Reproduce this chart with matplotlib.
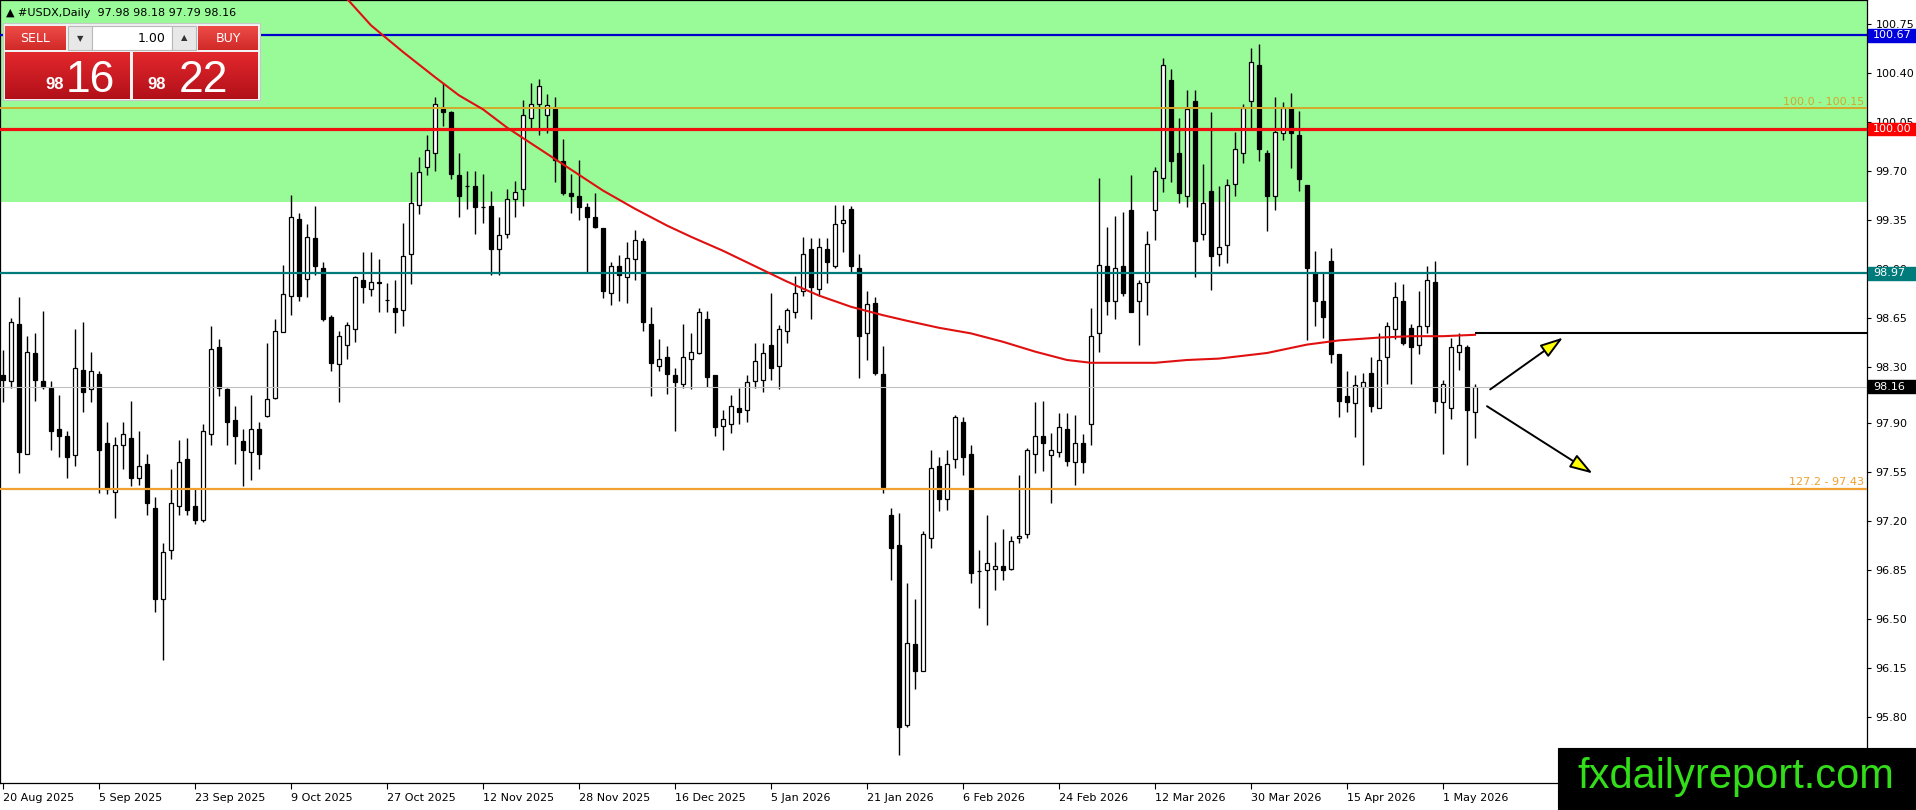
import numpy as np
import matplotlib
matplotlib.use("Agg")
import matplotlib.pyplot as plt
from matplotlib.patches import Rectangle
from matplotlib.colors import LinearSegmentedColormap
from matplotlib.transforms import blended_transform_factory


# daily USDX bars, first bar = 20 Aug 2025
opens = [
    98.24, 98.20, 98.61, 97.68, 98.40, 98.20, 98.15, 97.86, 97.81, 97.67,
    98.28, 98.14, 98.25, 97.76, 97.41, 97.74, 97.79, 97.51, 97.61, 97.29,
    96.64, 96.99, 97.31, 97.64, 97.31, 97.21, 97.82, 98.44, 98.14, 97.92,
    97.77, 97.69, 97.86, 97.95, 98.08, 98.55, 98.81, 99.36, 98.93, 99.22,
    99.01, 98.66, 98.32, 98.46, 98.57, 98.92, 98.86, 98.90, 98.78, 98.72,
    98.71, 99.11, 99.46, 99.73, 99.83, 100.14, 100.12, 99.67, 99.59, 99.59,
    99.44, 99.45, 99.14, 99.25, 99.50, 99.57, 100.08, 100.18, 100.10, 100.14,
    99.77, 99.54, 99.52, 99.44, 99.37, 99.29, 98.83, 99.02, 98.94, 99.07,
    99.20, 98.61, 98.31, 98.37, 98.24, 98.18, 98.36, 98.40, 98.64, 98.24,
    97.88, 97.89, 98.01, 97.99, 98.20, 98.21, 98.46, 98.31, 98.56, 98.69,
    98.84, 99.14, 98.86, 99.14, 99.02, 99.33, 99.43, 99.01, 98.54, 98.76,
    98.25, 97.24, 97.03, 95.74, 96.32, 96.13, 97.08, 97.59, 97.36, 97.64,
    97.91, 97.68, 96.84, 96.85, 96.86, 96.88, 96.86, 97.08, 97.11, 97.68,
    97.81, 97.67, 97.69, 97.86, 97.62, 97.76, 97.89, 98.54, 99.02, 98.77,
    99.02, 99.42, 98.77, 98.91, 99.42, 99.65, 100.35, 99.83, 99.52, 100.20,
    99.25, 99.56, 99.11, 99.17, 99.61, 99.83, 100.20, 100.46, 99.83, 99.52,
    99.97, 100.15, 99.96, 99.60, 98.97, 98.77, 99.06, 98.39, 98.09, 98.04,
    98.16, 98.26, 98.01, 98.37, 98.57, 98.77, 98.58, 98.46, 98.59, 98.91,
    98.05, 98.01, 98.41, 98.44, 97.98,
]
highs = [
    98.42, 98.65, 98.80, 98.52, 98.54, 98.70, 98.20, 98.10, 97.84, 98.57,
    98.62, 98.41, 98.27, 97.91, 97.80, 97.91, 98.06, 97.84, 97.68, 97.37,
    97.04, 97.57, 97.78, 97.79, 97.43, 97.89, 98.59, 98.50, 98.15, 98.02,
    97.86, 98.10, 97.91, 98.47, 98.64, 99.03, 99.53, 99.40, 99.32, 99.45,
    99.05, 98.67, 98.56, 98.62, 98.95, 99.12, 99.12, 99.07, 98.90, 98.92,
    99.33, 99.69, 99.80, 99.96, 100.23, 100.33, 100.13, 99.83, 99.70, 99.70,
    99.68, 99.56, 99.37, 99.57, 99.63, 100.21, 100.33, 100.36, 100.25, 100.23,
    99.93, 99.68, 99.78, 99.47, 99.54, 99.29, 99.05, 99.10, 99.19, 99.28,
    99.22, 98.73, 98.50, 98.45, 98.29, 98.61, 98.54, 98.72, 98.70, 98.24,
    97.99, 98.10, 98.15, 98.24, 98.47, 98.47, 98.83, 98.60, 98.72, 98.95,
    99.23, 99.22, 99.22, 99.22, 99.46, 99.46, 99.45, 99.11, 98.84, 98.80,
    98.45, 97.29, 97.26, 96.76, 96.64, 97.13, 97.71, 97.66, 97.71, 97.96,
    97.94, 97.74, 96.99, 97.24, 97.05, 97.14, 97.09, 97.53, 97.72, 98.05,
    98.06, 97.83, 97.97, 97.97, 97.96, 97.82, 98.72, 99.65, 99.30, 99.38,
    99.41, 99.67, 98.92, 99.27, 99.73, 100.51, 100.43, 100.08, 100.28, 100.28,
    99.75, 100.12, 99.59, 99.64, 99.98, 100.18, 100.58, 100.61, 99.85, 100.23,
    100.19, 100.26, 100.13, 99.60, 99.13, 98.97, 99.15, 98.39, 98.27, 98.24,
    98.26, 98.37, 98.54, 98.62, 98.91, 98.89, 98.61, 98.84, 99.02, 99.06,
    98.21, 98.51, 98.54, 98.46, 98.18,
]
lows = [
    98.05, 98.15, 97.54, 97.68, 98.06, 98.14, 97.71, 97.66, 97.51, 97.59,
    97.98, 98.05, 97.40, 97.39, 97.22, 97.57, 97.45, 97.46, 97.24, 96.55,
    96.21, 96.93, 97.24, 97.24, 97.18, 97.19, 97.74, 98.09, 97.74, 97.61,
    97.45, 97.49, 97.57, 97.94, 98.07, 98.55, 98.67, 98.77, 98.80, 98.96,
    98.63, 98.27, 98.05, 98.36, 98.48, 98.76, 98.81, 98.69, 98.69, 98.54,
    98.59, 98.89, 99.39, 99.67, 99.70, 100.02, 99.64, 99.37, 99.43, 99.25,
    99.33, 98.96, 98.96, 99.22, 99.37, 99.45, 100.00, 99.96, 99.97, 99.62,
    99.53, 99.40, 99.35, 98.98, 99.29, 98.79, 98.74, 98.77, 98.76, 98.92,
    98.56, 98.09, 98.27, 98.11, 97.84, 98.15, 98.14, 98.39, 98.16, 97.81,
    97.71, 97.83, 97.89, 97.91, 98.15, 98.12, 98.21, 98.14, 98.47, 98.65,
    98.81, 98.64, 98.81, 98.90, 99.01, 99.12, 98.98, 98.22, 98.35, 98.24,
    97.40, 96.78, 95.53, 95.73, 96.00, 96.13, 97.01, 97.27, 97.28, 97.58,
    97.53, 96.76, 96.58, 96.46, 96.71, 96.78, 96.85, 97.04, 97.08, 97.54,
    97.56, 97.33, 97.66, 97.59, 97.46, 97.54, 97.74, 98.41, 98.67, 98.64,
    98.81, 98.69, 98.46, 98.67, 99.21, 99.55, 99.62, 99.47, 99.44, 98.94,
    99.21, 98.85, 99.02, 99.04, 99.52, 99.76, 100.01, 99.77, 99.27, 99.42,
    99.92, 99.72, 99.56, 98.49, 98.59, 98.51, 98.33, 97.94, 97.98, 97.80,
    97.60, 97.98, 98.01, 98.18, 98.50, 98.46, 98.18, 98.39, 98.54, 97.97,
    97.68, 97.93, 98.28, 97.60, 97.79,
]
closes = [
    98.21, 98.62, 97.69, 98.41, 98.21, 98.16, 97.84, 97.81, 97.66, 98.29,
    98.12, 98.27, 97.71, 97.43, 97.74, 97.82, 97.51, 97.59, 97.33, 96.64,
    96.98, 97.33, 97.62, 97.28, 97.21, 97.84, 98.43, 98.15, 97.91, 97.81,
    97.71, 97.86, 97.68, 98.07, 98.56, 98.82, 99.37, 98.81, 99.23, 99.02,
    98.64, 98.33, 98.52, 98.60, 98.94, 98.87, 98.91, 98.91, 98.78, 98.69,
    99.09, 99.47, 99.69, 99.85, 100.18, 100.12, 99.68, 99.52, 99.59, 99.44,
    99.44, 99.14, 99.24, 99.50, 99.55, 100.10, 100.18, 100.31, 100.17, 99.78,
    99.54, 99.52, 99.44, 99.37, 99.30, 98.84, 99.02, 98.96, 99.08, 99.21,
    98.62, 98.33, 98.36, 98.25, 98.19, 98.37, 98.41, 98.69, 98.23, 97.87,
    97.93, 98.02, 97.98, 98.19, 98.34, 98.40, 98.29, 98.57, 98.71, 98.83,
    99.11, 98.87, 99.16, 99.05, 99.32, 99.35, 99.02, 98.52, 98.75, 98.26,
    97.44, 97.01, 95.73, 96.33, 96.13, 97.11, 97.58, 97.36, 97.61, 97.94,
    97.66, 96.83, 96.84, 96.90, 96.88, 96.85, 97.06, 97.09, 97.71, 97.81,
    97.76, 97.71, 97.87, 97.63, 97.76, 97.62, 98.52, 99.03, 98.77, 99.01,
    98.83, 98.69, 98.90, 99.18, 99.70, 100.46, 99.77, 99.54, 100.14, 99.20,
    99.47, 99.09, 99.16, 99.60, 99.86, 100.15, 100.48, 99.86, 99.52, 99.98,
    100.15, 99.97, 99.64, 99.01, 98.77, 98.66, 98.39, 98.06, 98.05, 98.17,
    98.19, 98.02, 98.35, 98.59, 98.80, 98.47, 98.44, 98.59, 98.92, 98.06,
    98.18, 98.44, 98.46, 97.99, 98.16,
]

# red moving average, sampled along the drawn line (bar index, value)
ma_bars = [43, 46, 50, 54, 57, 60, 63, 67, 71, 75, 79, 83, 86, 90, 94, 98,
           102, 106, 110, 113, 117, 121, 125, 129, 133, 136, 140, 144, 148,
           152, 158, 163, 167, 172, 176, 180, 184]
ma_values = [100.93, 100.74, 100.55, 100.37, 100.24, 100.14, 100.01, 99.86,
             99.71, 99.56, 99.43, 99.31, 99.23, 99.13, 99.02, 98.91, 98.81,
             98.73, 98.67, 98.63, 98.58, 98.54, 98.48, 98.41, 98.35, 98.33,
             98.33, 98.33, 98.35, 98.36, 98.40, 98.46, 98.49, 98.51, 98.52,
             98.52, 98.53]

date_labels = ["20 Aug 2025", "5 Sep 2025", "23 Sep 2025", "9 Oct 2025",
               "27 Oct 2025", "12 Nov 2025", "28 Nov 2025", "16 Dec 2025",
               "5 Jan 2026", "21 Jan 2026", "6 Feb 2026", "24 Feb 2026",
               "12 Mar 2026", "30 Mar 2026", "15 Apr 2026", "1 May 2026"]
label_step = 12

price_ticks = [100.75, 100.40, 100.05, 99.70, 99.35, 99.00, 98.65, 98.30,
               97.90, 97.55, 97.20, 96.85, 96.50, 96.15, 95.80]

zone_bottom = 99.48
level_blue = 100.67
level_gold = 100.15
level_red = 100.00
level_teal = 98.97
level_ma_end = 98.54
level_bid = 98.16
level_fib = 97.43

arrow_up = [(185.9, 98.14), (195.0, 98.51)]
arrow_down = [(185.5, 98.02), (198.7, 97.54)]

W, H = 1916, 810
my_dpi = 100
fig = plt.figure(figsize=(W / my_dpi, H / my_dpi), dpi=my_dpi)
ax = fig.add_axes([0, 27 / H, 1867 / W, 783 / H])
ax.set_xlim(-0.375, 233.0)
ax.set_ylim(95.329, 100.921)

# green resistance zone
ax.axhspan(zone_bottom, 102, color="#98FB98", lw=0, zorder=0)

# candles
n = len(opens)
bars = list(range(n))
body_low = [min(o, c) for o, c in zip(opens, closes)]
body_size = [abs(c - o) for o, c in zip(opens, closes)]
body_color = ["white" if c >= o else "black" for o, c in zip(opens, closes)]
ax.vlines(bars, lows, highs, color="black", lw=1.0, zorder=3)
ax.bar(bars, body_size, 0.6, body_low, color=body_color, edgecolor="black",
       lw=0.9, zorder=4)

# horizontal levels
ax.axhline(level_bid, color="#C0C0C0", lw=0.8, zorder=5)
ax.axhline(level_blue, color="#0000CC", lw=1.6, zorder=5)
ax.axhline(level_gold, color="#D4A82A", lw=1.4, zorder=5)
ax.axhline(level_red, color="#F01010", lw=2.3, zorder=5)
ax.axhline(level_teal, color="#007B7B", lw=1.6, zorder=5)
ax.axhline(level_fib, color="#F0A030", lw=1.6, zorder=5)
ax.hlines(level_ma_end, n - 1, 233.0, color="black", lw=1.5, zorder=5)

ax.plot(ma_bars, ma_values, color="#E01010", lw=1.5, zorder=6)

ax.text(232.6, level_gold + 0.01, "100.0 - 100.15", color="#D4A82A",
        fontsize=8, ha="right", va="bottom", zorder=6)
ax.text(232.6, level_fib + 0.01, "127.2 - 97.43", color="#F0A030",
        fontsize=8, ha="right", va="bottom", zorder=6)

for start, end in (arrow_up, arrow_down):
    ax.annotate("", xy=end, xytext=start,
                arrowprops=dict(arrowstyle="-|>,head_length=1.4,head_width=0.45",
                                facecolor="#FFFF00", edgecolor="black", lw=1.4,
                                shrinkA=0, shrinkB=0),
                zorder=7)

# axes formatting, MT4 style
for sp in ax.spines.values():
    sp.set_color("black")
    sp.set_linewidth(0.9)
ax.yaxis.tick_right()
ax.set_yticks(price_ticks)
ax.set_yticklabels(["%.2f" % p for p in price_ticks])
ax.tick_params(axis="y", direction="out", length=3, pad=3, labelsize=8,
               colors="black")
ax.set_xticks(list(range(0, n, label_step)))
ax.set_xticklabels(date_labels, ha="left")
ax.tick_params(axis="x", direction="out", length=4, pad=3, labelsize=8)

# coloured price boxes on the scale
trans = blended_transform_factory(fig.transFigure, ax.transData)
for price, bg in ((level_blue, "#0000DD"), (level_red, "#FF0000"),
                  (level_teal, "#007B7B"), (level_bid, "black")):
    ax.add_patch(Rectangle((1868 / W, price - 0.046), 48 / W, 0.092,
                           transform=trans, color=bg, clip_on=False, zorder=8))
    ax.text(1873 / W, price, "%.2f" % price, transform=trans, color="white",
            fontsize=8, va="center", ha="left", clip_on=False, zorder=9)

# overlay in pixel coordinates for the trade panel and watermark
ov = fig.add_axes([0, 0, 1, 1])
ov.patch.set_alpha(0)
ov.axis("off")


def box(x0, y0, x1, y1, color, edge=None):
    ov.add_patch(Rectangle((x0, y0), x1 - x0, y1 - y0, facecolor=color,
                           edgecolor=edge if edge else color, lw=0.8, zorder=2))


def red_box(x0, y0, x1, y1, top, bottom):
    cmap = LinearSegmentedColormap.from_list("redfade", [top, bottom])
    grad = np.linspace(0, 1, 40).reshape(-1, 1)
    ov.imshow(grad, cmap=cmap, extent=[x0, x1, y1, y0], aspect="auto",
              zorder=2, interpolation="bilinear")


ov.text(6, 13, "\u25b2 #USDX,Daily  97.98 98.18 97.79 98.16", fontsize=8,
        va="center", ha="left", color="black")

box(3, 23, 260, 100, "#F2F2F2", "#C8C8C8")
red_box(5, 26, 66, 50, "#EE4B47", "#D02A28")
red_box(198, 26, 258, 50, "#EE4B47", "#D02A28")
box(68, 26, 92, 50, "#E8E8E8", "#B8B8B8")
box(92, 26, 172, 50, "white", "#B8B8B8")
box(172, 26, 196, 50, "#E8E8E8", "#B8B8B8")
red_box(5, 52, 130, 99, "#E2282C", "#B3101A")
red_box(133, 52, 258, 99, "#E2282C", "#B3101A")

ov.text(35, 38.5, "SELL", color="white", fontsize=9, ha="center", va="center")
ov.text(228, 38.5, "BUY", color="white", fontsize=9, ha="center", va="center")
ov.text(166, 38.5, "1.00", color="black", fontsize=9, ha="right", va="center")
ov.text(80, 39, "\u25bc", color="#333333", fontsize=6, ha="center", va="center")
ov.text(184, 38, "\u25b2", color="#333333", fontsize=6, ha="center", va="center")

ov.text(45, 89, "98", color="white", fontsize=12, fontweight="bold",
        family="Liberation Sans", va="baseline")
ov.text(66, 92, "16", color="white", fontsize=32, family="Liberation Sans",
        va="baseline")
ov.text(147, 89, "98", color="white", fontsize=12, fontweight="bold",
        family="Liberation Sans", va="baseline")
ov.text(179, 92, "22", color="white", fontsize=32, family="Liberation Sans",
        va="baseline")

box(1558, 748, W, H, "black")
ov.text(1736, 788, "fxdailyreport.com", color="#33DD1A", fontsize=30,
        family="Liberation Sans", ha="center", va="baseline", zorder=3)

ov.set_xlim(0, W)
ov.set_ylim(H, 0)

fig.savefig("out.png", dpi=my_dpi, facecolor="white")
